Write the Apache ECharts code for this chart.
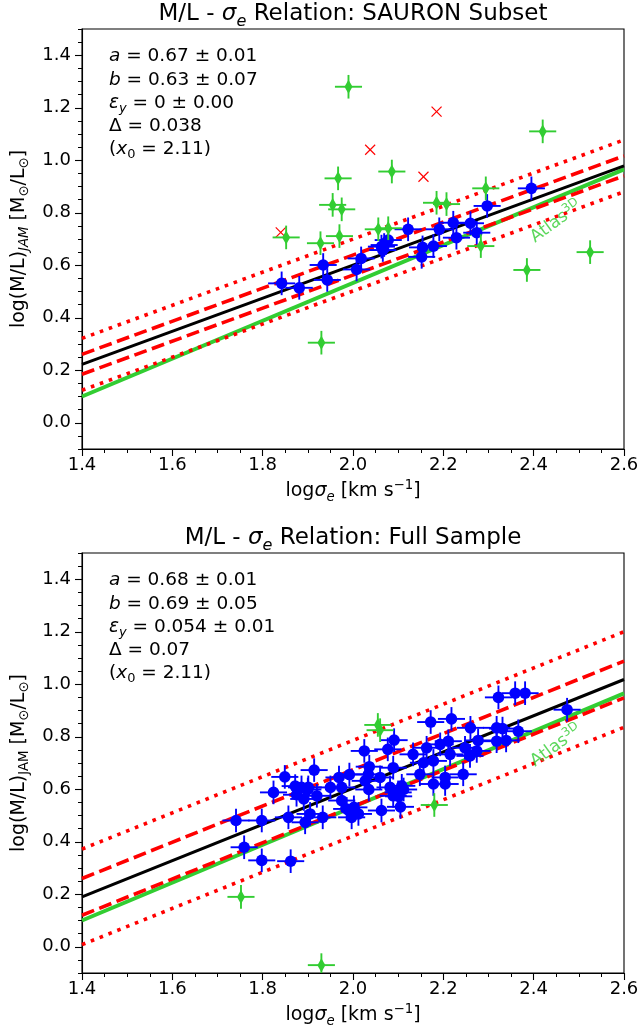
<!DOCTYPE html>
<html>
<head>
<meta charset="utf-8">
<script src="https://cdn.jsdelivr.net/npm/echarts@6/dist/echarts.min.js"></script>
<style>
  html, body { margin: 0; padding: 0; background: #fff; }
  #chart { width: 640px; height: 1034px; }
</style>
</head>
<body>
<div id="chart"></div>
<script>
// tick labels
const xTicks = [1.4, 1.6, 1.8, 2.0, 2.2, 2.4, 2.6];
const yTicks = [0.0, 0.2, 0.4, 0.6, 0.8, 1.0, 1.2, 1.4];

// top panel: SAURON subset
const sauronFit = [0.67, 0.63, 0.038, 2.11]; // a, b, delta, x0
const sauronBlueSigma = [1.842, 1.881, 1.934, 1.943, 2.008, 2.018, 2.063, 2.069, 2.078, 2.066, 2.122,
  2.152, 2.154, 2.178, 2.191, 2.222, 2.229, 2.260, 2.274, 2.297, 2.395];
const sauronBlueML = [0.531, 0.514, 0.601, 0.544, 0.584, 0.626, 0.671, 0.677, 0.696, 0.658, 0.737,
  0.632, 0.668, 0.673, 0.737, 0.762, 0.705, 0.760, 0.724, 0.826, 0.893];
const sauronGreenSigma = [1.852, 1.928, 1.967, 1.955, 1.975, 1.970, 1.990, 2.086, 2.056, 2.078, 2.185,
  2.207, 2.294, 2.283, 2.385, 2.420, 2.525, 1.930];
const sauronGreenML = [0.706, 0.684, 0.931, 0.830, 0.813, 0.711, 1.280, 0.957, 0.737, 0.741, 0.838,
  0.833, 0.893, 0.673, 0.582, 1.110, 0.650, 0.305];
const sauronRedSigma = [1.840, 2.038, 2.156, 2.185];
const sauronRedML = [0.725, 1.040, 0.937, 1.185];
const sauronStats = [
  '{i|a}{n| = 0.67 ± 0.01}',
  '{i|b}{n| = 0.63 ± 0.07}',
  '{i|ε}{subi|y}{n| = 0 ± 0.00}',
  '{n|Δ = 0.038}',
  '{n|(}{i|x}{sub|0}{n| = 2.11)}'
];

// bottom panel: full sample
const fullFit = [0.68, 0.69, 0.07, 2.11];
const fullBlueSigma = [2.322, 2.359, 2.381, 2.474, 2.172, 2.218, 2.260, 2.318, 2.331, 2.366,
  2.318, 2.339, 2.277, 2.025, 2.091, 2.077, 2.133, 2.163, 2.193, 2.211, 2.215, 2.248, 2.259, 2.274,
  2.178, 2.156, 2.089, 2.036, 2.148, 2.178, 2.204, 2.204, 2.244, 2.108, 2.100, 1.992, 1.969, 1.975, 1.950,
  1.741, 1.798, 1.824, 1.849, 1.914, 1.857, 1.875, 1.886, 1.891, 1.901, 1.920, 1.894, 1.905, 1.933,
  1.975, 1.986, 2.002, 2.012, 1.997, 2.027, 2.034, 2.060, 2.063, 2.082, 2.089,
  1.759, 1.798, 1.862, 1.872, 1.900, 2.035, 2.105, 2.101, 2.112];
const fullBlueML = [0.950, 0.966, 0.966, 0.903, 0.856, 0.868, 0.834, 0.834, 0.831, 0.821,
  0.783, 0.786, 0.786, 0.746, 0.787, 0.752, 0.733, 0.758, 0.771, 0.783, 0.733, 0.758, 0.727, 0.746,
  0.708, 0.701, 0.682, 0.686, 0.657, 0.620, 0.645, 0.620, 0.657, 0.613, 0.588, 0.656, 0.645, 0.607, 0.607,
  0.481, 0.481, 0.588, 0.647, 0.673, 0.493, 0.579, 0.607, 0.563, 0.607, 0.575, 0.474, 0.506, 0.493,
  0.557, 0.525, 0.531, 0.506, 0.493, 0.632, 0.657, 0.645, 0.519, 0.607, 0.575,
  0.379, 0.329, 0.326, 0.612, 0.599, 0.599, 0.533, 0.573, 0.599];
const fullGreenSigma = [2.055, 2.060, 2.180, 1.752, 1.930];
const fullGreenML = [0.845, 0.825, 0.540, 0.190, -0.070];
const fullStats = [
  '{i|a}{n| = 0.68 ± 0.01}',
  '{i|b}{n| = 0.69 ± 0.05}',
  '{i|ε}{subi|y}{n| = 0.054 ± 0.01}',
  '{n|Δ = 0.07}',
  '{n|(}{i|x}{sub|0}{n| = 2.11)}'
];

// shared
const sigmaErr = 0.03;
const mlErr = 0.045;
const atlasML = [0.10, 0.965];       // Atlas3D relation at x = 1.4 and x = 2.6
const atlasLabelAt = [2.45, 0.765];

const FONT = 'DejaVu Sans';
const GREEN = '#32cd32', BLUE = '#0000ff', RED = '#ff0000';
const boxes = [{ top: 29 }, { top: 553 }];
const LEFT = 82, W = 542, H = 420;

function richSet(colorKey, color, b) {
  const mk = o => Object.assign({ fontFamily: FONT, verticalAlign: 'middle', [colorKey]: color }, o);
  return {
    n: mk({ fontSize: b, lineHeight: b * 1.25 }),
    i: mk({ fontSize: b, lineHeight: b * 1.25, fontStyle: 'italic' }),
    sub: mk({ fontSize: b * 0.7, lineHeight: b * 0.6, padding: [b * 0.65, 0, 0, 0] }),
    subi: mk({ fontSize: b * 0.7, lineHeight: b * 0.6, padding: [b * 0.65, 0, 0, 0], fontStyle: 'italic' }),
    sup: mk({ fontSize: b * 0.7, lineHeight: b * 0.7, padding: [0, 0, b * 0.55, 0] })
  };
}

function zip(xs, ys) {
  return xs.map((x, k) => [x, ys[k], sigmaErr, mlErr]);
}

function fitLine(fit, k) {
  const [a, b, d, x0] = fit;
  const x1 = xTicks[0], x2 = xTicks[xTicks.length - 1];
  return [[x1, a + b * (x1 - x0) + k * d], [x2, a + b * (x2 - x0) + k * d]];
}

function markItem(kind, color) {
  return function (params, api) {
    const x = api.value(0), y = api.value(1);
    const c = api.coord([x, y]);
    const kids = [];
    const seg = (x1, y1, x2, y2, w) => ({ type: 'line', shape: { x1, y1, x2, y2 }, style: { stroke: color, lineWidth: w } });
    if (kind === 'cross') {
      const s = 5;
      kids.push(seg(c[0] - s, c[1] - s, c[0] + s, c[1] + s, 1.2));
      kids.push(seg(c[0] - s, c[1] + s, c[0] + s, c[1] - s, 1.2));
    } else {
      const ex = api.value(2), ey = api.value(3);
      const l = api.coord([x - ex, y]), r = api.coord([x + ex, y]);
      const t = api.coord([x, y + ey]), b = api.coord([x, y - ey]);
      kids.push(seg(l[0], l[1], r[0], r[1], 1.9));
      kids.push(seg(t[0], t[1], b[0], b[1], 1.9));
      if (kind === 'circle') {
        kids.push({ type: 'circle', shape: { cx: c[0], cy: c[1], r: 5.8 }, style: { fill: color } });
      } else {
        kids.push({ type: 'polygon', shape: { points: [[c[0], c[1] - 7], [c[0] + 4, c[1]], [c[0], c[1] + 7], [c[0] - 4, c[1]]] }, style: { fill: color } });
      }
    }
    return { type: 'group', children: kids };
  };
}

const panels = [
  { title: 'SAURON Subset', fit: sauronFit, blue: zip(sauronBlueSigma, sauronBlueML),
    green: zip(sauronGreenSigma, sauronGreenML), red: zip(sauronRedSigma, sauronRedML),
    stats: sauronStats, jam: 'subi' },
  { title: 'Full Sample', fit: fullFit, blue: zip(fullBlueSigma, fullBlueML),
    green: zip(fullGreenSigma, fullGreenML), red: [],
    stats: fullStats, jam: 'sub' }
];

const grid = [], xAxis = [], yAxis = [], series = [], graphic = [];
const black = { color: '#000', width: 1.1 };

panels.forEach((p, i) => {
  const top = boxes[i].top;
  grid.push({ left: LEFT, top: top, width: W, height: H, show: true, borderColor: '#000', borderWidth: 1.1, outerBoundsMode: 'none' });
  xAxis.push({
    gridIndex: i, type: 'value', min: xTicks[0], max: xTicks[xTicks.length - 1], interval: 0.2,
    name: '{n|log}{i|σ}{subi|e}{n| [km s}{sup|−1}{n|]}',
    nameLocation: 'middle', nameGap: 30,
    nameTextStyle: { rich: richSet('color', '#000', 19) },
    axisLine: { onZero: false, lineStyle: black },
    axisTick: { length: 7, lineStyle: black },
    minorTick: { show: true, splitNumber: 4, length: 4, lineStyle: { color: '#000', width: 1 } },
    axisLabel: { color: '#000', fontSize: 18, fontFamily: FONT, margin: 7, formatter: v => v.toFixed(1) },
    splitLine: { show: false }
  });
  yAxis.push({
    gridIndex: i, type: 'value', min: -0.1, max: 1.5, position: 'left',
    name: '{n|log(M/L)}{' + p.jam + '|JAM}{n| [M}{sub|⊙}{n|/L}{sub|⊙}{n|]}',
    nameLocation: 'middle', nameRotate: 90, nameGap: 46,
    nameTextStyle: { rich: richSet('color', '#000', 19) },
    axisLine: { onZero: false, lineStyle: black },
    axisTick: { length: 7, lineStyle: black, customValues: yTicks },
    axisLabel: { color: '#000', fontSize: 18, fontFamily: FONT, margin: 11, customValues: yTicks, formatter: v => v.toFixed(1) },
    splitLine: { show: false }
  });
  yAxis.push({
    gridIndex: i, type: 'value', min: -0.1, max: 1.5, interval: 0.05, position: 'left',
    axisLine: { show: false, onZero: false },
    axisTick: { length: 4, lineStyle: { color: '#000', width: 1 } },
    axisLabel: { show: false },
    splitLine: { show: false }
  });
  const xi = i, yi = i * 2;
  const line = (data, color, width, type, z) => ({
    type: 'line', xAxisIndex: xi, yAxisIndex: yi, data, symbol: 'none', silent: true, z,
    lineStyle: { color, width, type, cap: 'butt' }
  });
  series.push(line([[xTicks[0], atlasML[0]], [xTicks[xTicks.length - 1], atlasML[1]]], GREEN, 4, 'solid', 1));
  series.push(line(fitLine(p.fit, 0), '#000', 3, 'solid', 1));
  series.push(line(fitLine(p.fit, 1), RED, 3.6, [13, 5.6], 1));
  series.push(line(fitLine(p.fit, -1), RED, 3.6, [13, 5.6], 1));
  series.push(line(fitLine(p.fit, 2.6), RED, 3.6, [3.6, 5.9], 1));
  series.push(line(fitLine(p.fit, -2.6), RED, 3.6, [3.6, 5.9], 1));
  const custom = (data, kind, color, z) => ({
    type: 'custom', xAxisIndex: xi, yAxisIndex: yi, data, clip: true, silent: true, z,
    encode: { x: 0, y: 1 }, renderItem: markItem(kind, color)
  });
  series.push(custom(p.red, 'cross', RED, 4));
  series.push(custom(p.blue, 'circle', BLUE, 5));
  series.push(custom(p.green, 'diamond', GREEN, 6));
  series.push({
    type: 'scatter', xAxisIndex: xi, yAxisIndex: yi, data: [atlasLabelAt], symbolSize: 0, silent: true, z: 7,
    label: {
      show: true, position: 'inside', rotate: 36, formatter: '{a|Atlas}{s|3D}',
      rich: {
        a: { fontFamily: FONT, fontSize: 17, color: GREEN, verticalAlign: 'middle', lineHeight: 20 },
        s: { fontFamily: FONT, fontSize: 12, color: GREEN, verticalAlign: 'middle', lineHeight: 10, padding: [0, 0, 10, 0] }
      }
    }
  });
  graphic.push({
    type: 'text', x: LEFT + W / 2, y: top - 15, silent: true,
    style: { text: '{n|M/L - }{i|σ}{subi|e}{n| Relation: ' + p.title + '}', rich: richSet('fill', '#000', 23), align: 'center', verticalAlign: 'middle' }
  });
  graphic.push({
    type: 'text', x: 109, y: top + 16, silent: true,
    style: { text: p.stats.join('\n'), rich: richSet('fill', '#000', 18.5), align: 'left', verticalAlign: 'top' }
  });
});

const chart = echarts.init(document.getElementById('chart'));
chart.setOption({ animation: false, backgroundColor: '#fff', grid, xAxis, yAxis, series, graphic });
</script>
</body>
</html>
